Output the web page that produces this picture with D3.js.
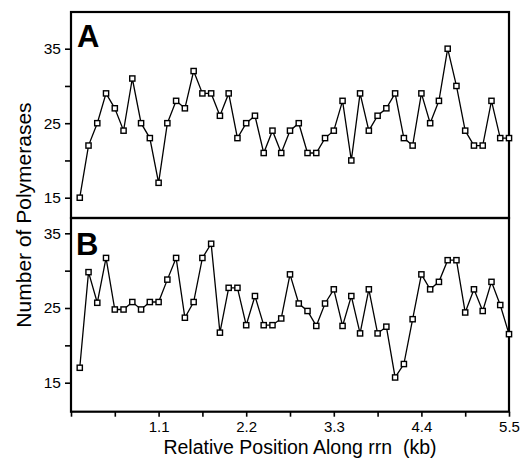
<html>
<head>
	<script src="https://d3js.org/d3.v7.min.js" charset="utf-8"></script>
	<style type="text/css">
	body { margin: 0; background: #fff; }
	svg { display: block; font-family: "Liberation Sans", Arial, Helvetica, sans-serif; }
	</style>
</head>
<body>
<script type="text/javascript">
	var w = 523;
	var h = 458;

	// position along rrn (kb), one bin every 0.11 kb
	var positions = [0.11,0.22,0.33,0.44,0.55,0.66,0.77,0.88,0.99,1.10,
		1.21,1.32,1.43,1.54,1.65,1.76,1.87,1.98,2.09,2.20,
		2.31,2.42,2.53,2.64,2.75,2.86,2.97,3.08,3.19,3.30,
		3.41,3.52,3.63,3.74,3.85,3.96,4.07,4.18,4.29,4.40,
		4.51,4.62,4.73,4.84,4.95,5.06,5.17,5.28,5.39,5.50];

	var seriesA = [15,22,25,29,27,24,31,25,23,17,
		25,28,27,32,29,29,26,29,23,25,
		26,21,24,21,24,25,21,21,23,24,
		28,20,29,24,26,27,29,23,22,29,
		25,28,35,30,24,22,22,28,23,23];

	var seriesB = [17,29.8,25.7,31.7,24.8,24.8,25.8,24.8,25.8,25.8,
		28.8,31.7,23.7,25.8,31.7,33.6,21.7,27.7,27.7,22.7,
		26.6,22.7,22.7,23.6,29.5,25.6,24.6,22.6,25.6,27.5,
		22.6,26.6,21.6,27.5,21.6,22.5,15.7,17.5,23.5,29.5,
		27.5,28.5,31.4,31.4,24.4,27.5,24.6,28.5,25.4,21.5];

	var yTicks = [15,20,25,30,35];
	var yLabels = [15,25,35];
	var xTicks = [0,0.55,1.1,1.65,2.2,2.75,3.3,3.85,4.4,4.95,5.5];
	var xLabels = ["1.1","2.2","3.3","4.4","5.5"];

	var svg = d3.select("body")
		.append("svg")
		.attr("width", w)
		.attr("height", h);

	svg.append("rect").attr("width", w).attr("height", h).attr("fill", "#fff");

	var left = 71, right = 509;
	var x = d3.scaleLinear().domain([0, 5.5]).range([left, right]);

	var panels = [
		{name: "A", data: seriesA, top: 12, bottom: 218,
			y: d3.scaleLinear().domain([15, 35]).range([197.7, 48.7]), labelY: 46.5, labelX: 77},
		{name: "B", data: seriesB, top: 218, bottom: 411.7,
			y: d3.scaleLinear().domain([15, 35]).range([382.7, 233.3]), labelY: 255, labelX: 76}
	];

	panels.forEach(function(p) {
		var g = svg.append("g");

		// y axis
		var ax = g.append("g")
			.attr("transform", "translate(" + left + ",0)")
			.call(d3.axisLeft(p.y).tickValues(yTicks).tickSize(6).tickPadding(4)
				.tickFormat(function(d) { return yLabels.indexOf(d) >= 0 ? d : ""; }));
		ax.select(".domain").remove();
		ax.selectAll("line").attr("stroke-width", 1.6);
		ax.selectAll("text").attr("font-size", 15.5).attr("font-family", "Liberation Sans, Arial, sans-serif");

		// frame
		g.append("rect")
			.attr("x", left)
			.attr("y", p.top)
			.attr("width", right - left)
			.attr("height", p.bottom - p.top)
			.attr("fill", "none")
			.attr("stroke", "#000")
			.attr("stroke-width", 2.2);

		var line = d3.line()
			.x(function(d, i) { return x(positions[i]); })
			.y(function(d) { return p.y(d); });

		g.append("path")
			.datum(p.data)
			.attr("d", line)
			.attr("fill", "none")
			.attr("stroke", "#000")
			.attr("stroke-width", 1.3);

		g.selectAll("rect.pt")
			.data(p.data)
			.enter()
			.append("rect")
			.attr("class", "pt")
			.attr("x", function(d, i) { return x(positions[i]) - 2.6; })
			.attr("y", function(d) { return p.y(d) - 2.6; })
			.attr("width", 5.2)
			.attr("height", 5.2)
			.attr("fill", "#fff")
			.attr("stroke", "#000")
			.attr("stroke-width", 1.4);

		g.append("text")
			.text(p.name)
			.attr("x", p.labelX)
			.attr("y", p.labelY)
			.attr("font-size", 31)
			.attr("font-weight", "bold");
	});

	// x axis
	var xa = svg.append("g")
		.attr("transform", "translate(0,411.7)")
		.call(d3.axisBottom(x).tickValues(xTicks).tickSize(5).tickPadding(5)
			.tickFormat(function(d) {
				var s = d.toFixed(1);
				return xLabels.indexOf(s) >= 0 ? s : "";
			}));
	xa.select(".domain").remove();
	xa.selectAll("line").attr("stroke-width", 1.6);
	xa.selectAll("text").attr("font-size", 15).attr("font-family", "Liberation Sans, Arial, sans-serif");

	// axis titles
	svg.append("text")
		.text("Relative Position Along rrn  (kb)")
		.attr("xml:space", "preserve")
		.style("white-space", "pre")
		.attr("x", 300)
		.attr("y", 454)
		.attr("text-anchor", "middle")
		.attr("font-size", 19.5);

	svg.append("text")
		.text("Number of Polymerases")
		.attr("transform", "translate(31,215) rotate(-90)")
		.attr("text-anchor", "middle")
		.attr("font-size", 21);
</script>
</body>
</html>
